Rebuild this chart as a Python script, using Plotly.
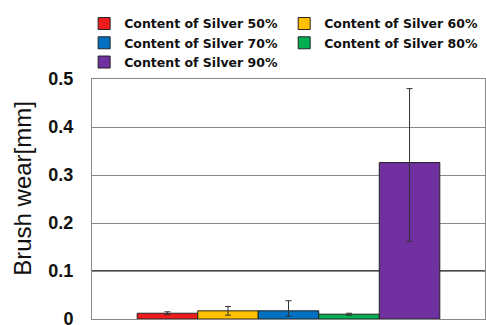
import plotly.graph_objects as go

# Brush wear by silver content (single test condition)
series_names = ["Content of Silver 50%", "Content of Silver 60%", "Content of Silver 70%",
                "Content of Silver 80%", "Content of Silver 90%"]
wear_mm = [0.012, 0.017, 0.017, 0.010, 0.326]
err_plus = [0.003, 0.009, 0.021, 0.002, 0.154]
err_minus = [0.003, 0.009, 0.011, 0.002, 0.164]
colors = ["#ee1c1c", "#ffc000", "#0070c0", "#00b050", "#7030a0"]
legend_column = ["legend", "legend2", "legend", "legend2", "legend"]
y_ticks = [0, 0.1, 0.2, 0.3, 0.4, 0.5]

fig = go.Figure()
for name, v, ep, em, c, lg in zip(series_names, wear_mm, err_plus, err_minus, colors, legend_column):
    fig.add_trace(go.Bar(
        x=[""], y=[v], name=name, legend=lg,
        marker=dict(color=c, line=dict(color="#222", width=1)),
        error_y=dict(type="data", array=[ep], arrayminus=[em], symmetric=False,
                     color="#333", thickness=1, width=3),
    ))

# darker reference line at 0.1
fig.add_shape(type="line", xref="paper", yref="y", x0=0, x1=1, y0=0.1, y1=0.1,
              line=dict(color="#111", width=1.5), layer="below")

# vertical axis title
fig.add_annotation(text="Brush wear[mm]", textangle=-90, xref="paper", yref="paper",
                   x=-0.176, y=0.546, xanchor="center", yanchor="middle", showarrow=False,
                   font=dict(size=24, color="#111"))

legend_font = dict(size=12.5, family="DejaVu Sans, sans-serif", weight="bold", color="#111")
fig.update_layout(
    width=486, height=325,
    margin=dict(l=92, r=1, t=79, b=6, autoexpand=False),
    paper_bgcolor="white", plot_bgcolor="white",
    barmode="group", bargap=0.23, bargroupgap=0,
    font=dict(family="Liberation Sans, Arial, sans-serif", color="#111"),
    showlegend=True,
    legend=dict(x=-0.02, xanchor="left", y=1.292, yanchor="top", traceorder="normal",
                font=legend_font, itemwidth=30, bgcolor="rgba(0,0,0,0)"),
    legend2=dict(x=0.489, xanchor="left", y=1.292, yanchor="top", traceorder="normal",
                 font=legend_font, itemwidth=30, bgcolor="rgba(0,0,0,0)"),
)
fig.update_xaxes(showticklabels=False, ticks="", showgrid=False,
                 showline=True, mirror=True, linecolor="#888", linewidth=1)
fig.update_yaxes(range=[0, 0.5], tickvals=y_ticks, ticktext=[f"{t:g}" for t in y_ticks],
                 showgrid=True, gridcolor="#888", gridwidth=1, automargin=False,
                 showline=True, mirror=True, linecolor="#888", linewidth=1,
                 ticks="", ticklabelstandoff=14, zeroline=False, ticklabeloverflow="allow",
                 tickfont=dict(size=18, weight="bold"))

fig.write_html("out.html")
